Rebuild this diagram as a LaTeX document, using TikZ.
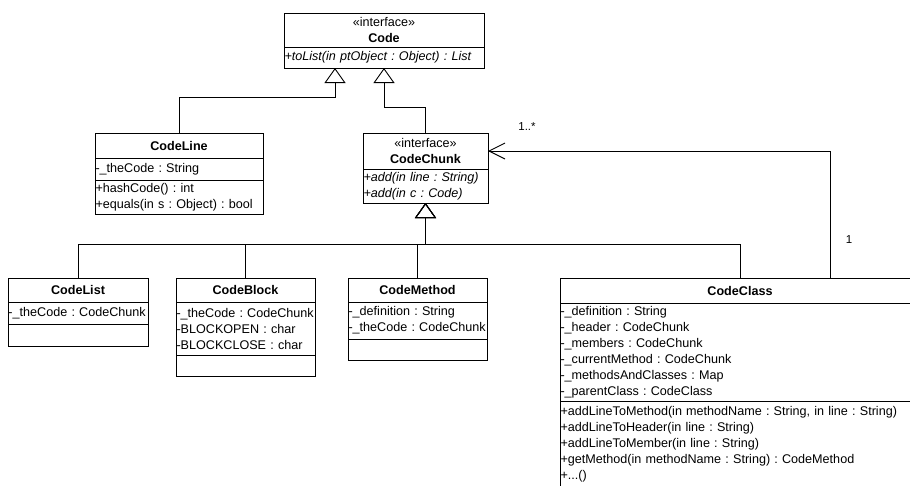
\documentclass[tikz,border=0pt]{standalone}
\usepackage{fontspec}
\setmainfont{Liberation Sans}
\usetikzlibrary{positioning, arrows.meta}

\begin{document}
\fontsize{12.6}{16}\selectfont\frenchspacing
\begin{tikzpicture}[x=1pt, y=-1pt,
  part/.style={draw, fill=white, line width=0.9pt, outer sep=0pt,
               inner xsep=0.5pt, inner ysep=0pt, align=left},
  title/.style={part, align=center},
  gen/.style={line width=0.9pt, -{Triangle[open, length=15pt, width=21pt]}},
  assoc/.style={line width=0.9pt, -{Straight Barb[length=16pt, width=16pt]}},
  mult/.style={font=\fontsize{11.5}{13}\selectfont}]
\useasboundingbox (0,0) rectangle (910,485);
\clip (0,0) rectangle (910,485);
% interfaces
\node[title, text width=199pt, minimum height=34pt, anchor=north west] (code) at (284,13) {«interface»\\\textbf{Code}};
\node[part, text width=199pt, minimum height=21pt, below=0pt of code] (code-ops) {\itshape +toList(in ptObject : Object) : List};
\node[title, text width=124pt, minimum height=36pt, anchor=north west] (codechunk) at (363,133) {«interface»\\\textbf{CodeChunk}};
\node[part, text width=124pt, minimum height=34pt, below=0pt of codechunk] (codechunk-ops) {\itshape +add(in line : String)\\+add(in c : Code)};
% CodeLine
\node[title, text width=167pt, minimum height=25pt, anchor=north west] (codeline) at (95,133) {\textbf{CodeLine}};
\node[part, text width=167pt, minimum height=22pt, below=0pt of codeline] (codeline-attr) {-\_theCode : String};
\node[part, text width=167pt, minimum height=34pt, below=0pt of codeline-attr] (codeline-ops) {+hashCode() : int\\+equals(in s : Object) : bool};
% chunk classes
\node[title, text width=139pt, minimum height=24pt, anchor=north west] (codelist) at (8,278) {\textbf{CodeList}};
\node[part, text width=139pt, minimum height=22pt, below=0pt of codelist] (codelist-attr) {-\_theCode~:~CodeChunk};
\node[part, text width=139pt, minimum height=22pt, below=0pt of codelist-attr] (codelist-ops) {};
\node[title, text width=138pt, minimum height=24pt, anchor=north west] (codeblock) at (176,278) {\textbf{CodeBlock}};
\node[part, text width=138pt, minimum height=53pt, below=0pt of codeblock] (codeblock-attr) {-\_theCode~:~CodeChunk\\-BLOCKOPEN : char\\-BLOCKCLOSE : char};
\node[part, text width=138pt, minimum height=21pt, below=0pt of codeblock-attr] (codeblock-ops) {};
\node[title, text width=138pt, minimum height=24pt, anchor=north west] (codemethod) at (348,278) {\textbf{CodeMethod}};
\node[part, text width=138pt, minimum height=37pt, below=0pt of codemethod] (codemethod-attr) {-\_definition : String\\-\_theCode~:~CodeChunk};
\node[part, text width=138pt, minimum height=21pt, below=0pt of codemethod-attr] (codemethod-ops) {};
\node[title, text width=359pt, minimum height=25pt, anchor=north west] (codeclass) at (560,278) {\textbf{CodeClass}};
\node[part, text width=359pt, minimum height=98pt, below=0pt of codeclass] (codeclass-attr) {-\_definition : String\\-\_header : CodeChunk\\-\_members : CodeChunk\\-\_currentMethod : CodeChunk\\-\_methodsAndClasses : Map\\-\_parentClass : CodeClass};
\node[part, text width=359pt, minimum height=86pt, below=0pt of codeclass-attr] (codeclass-ops) {+addLineToMethod(in methodName : String, in line : String)\\+addLineToHeader(in line : String)\\+addLineToMember(in line : String)\\+getMethod(in methodName : String) : CodeMethod\\+...()};
% generalizations
\draw[gen] (codeline.north) -- ++(0,-36) -| ([xshift=-49pt]code-ops.south);
\draw[gen] (codechunk.north) -- ++(0,-26) -| (code-ops.south);
\foreach \n in {codelist, codeblock, codemethod, codeclass}
  \draw[gen] (\n.north) -- ++(0,-34) -| (codechunk-ops.south);
% association
\draw[assoc] ([xshift=90pt]codeclass.north) |- (codechunk.east);
\node[mult] (many) at (527,127) {1..*};
\node[mult] (one) at (849,240) {1};
\end{tikzpicture}
\end{document}
